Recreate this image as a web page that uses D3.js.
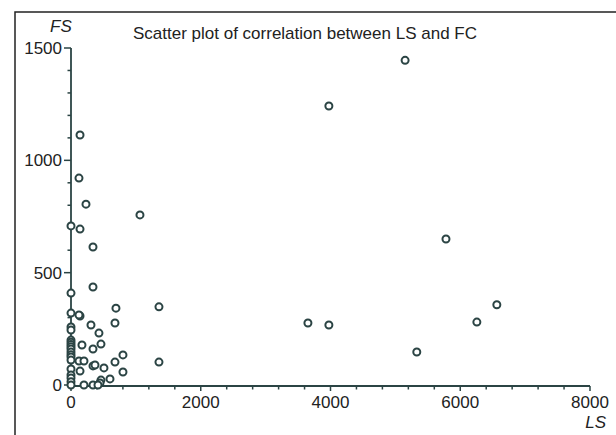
<!DOCTYPE html>
<html>
<head>
<meta charset="utf-8">
<script src="https://cdn.jsdelivr.net/npm/d3@7"></script>
<style>
  html, body { margin: 0; padding: 0; background: #fff; }
  svg { display: block; }
  text { font-family: "Liberation Sans", Arial, sans-serif; fill: #222; }
</style>
</head>
<body>
<svg id="chart" width="616" height="435"></svg>
<script>
const chartTitle = "Scatter plot of correlation between LS and FC";
const xLabel = "LS";
const yLabel = "FS";
const xTicks = [0, 2000, 4000, 6000, 8000];
const yTicks = [0, 500, 1000, 1500];
const lsValues = [
  0, 0, 0, 0, 0, 0, 0, 0, 0, 0, 0, 0, 0, 0, 0, 0, 0, 0, 0,
  139, 123, 231, 1063, 139, 339, 339, 139, 123, 693, 1356, 308, 678, 431, 169, 462, 339,
  123, 200, 801, 1356, 339, 370, 678, 508, 139, 801, 601, 462, 447, 200, 339, 416,
  3652, 3975, 5330, 6256, 6564, 5150, 3975, 5780
];
const fsValues = [
  708, 409, 320, 258, 245, 200, 190, 180, 170, 160, 147, 135, 125, 111, 71, 45, 31, 15, 0,
  1113, 921, 805, 757, 694, 614, 436, 307, 312, 342, 348, 267, 276, 231, 178, 182, 160,
  107, 107, 134, 102, 85, 89, 102, 76, 62, 58, 27, 22, 9, 0, 0, 0,
  276, 267, 147, 280, 357, 1445, 1242, 650
];

const svg = d3.select("#chart");
const axisColor = "#2b4444";
const fs = 17;

// frame
svg.append("path").attr("d", "M15,435V12H616")
  .attr("fill", "none").attr("stroke", "#222").attr("stroke-width", 1.5);

const x = d3.scaleLinear().domain([0, 8000]).range([71, 590]);
const y = d3.scaleLinear().domain([0, 1500]).range([385, 48]);

// x axis
const gx = svg.append("g").attr("transform", "translate(0,386)");
gx.append("line").attr("x1", x(0)).attr("x2", x(8000))
  .attr("stroke", axisColor).attr("stroke-width", 1.8);
const xMinor = d3.range(0, 8001, 400);
gx.selectAll("line.minor").data(xMinor).join("line").attr("class", "minor")
  .attr("x1", d => x(d)).attr("x2", d => x(d))
  .attr("y1", 0).attr("y2", d => xTicks.includes(d) ? 5 : 3.5)
  .attr("stroke", axisColor).attr("stroke-width", 1.5);
gx.selectAll("text").data(xTicks).join("text")
  .attr("x", d => x(d)).attr("y", 22)
  .attr("text-anchor", "middle").attr("font-size", fs)
  .text(d => d);

// y axis
const gy = svg.append("g").attr("transform", "translate(71,0)");
gy.append("line").attr("y1", y(0)).attr("y2", y(1500))
  .attr("stroke", axisColor).attr("stroke-width", 1.8);
const yMinor = d3.range(0, 1501, 100);
gy.selectAll("line.minor").data(yMinor).join("line").attr("class", "minor")
  .attr("y1", d => y(d)).attr("y2", d => y(d))
  .attr("x1", 0).attr("x2", d => yTicks.includes(d) ? -7 : -3.5)
  .attr("stroke", axisColor).attr("stroke-width", 1.5);
gy.selectAll("text").data(yTicks).join("text")
  .attr("x", -9).attr("y", d => y(d) + 6)
  .attr("text-anchor", "end").attr("font-size", fs)
  .text(d => d);

// labels
svg.append("text").attr("x", 50).attr("y", 32).attr("font-size", fs)
  .attr("font-style", "italic").text(yLabel);
svg.append("text").attr("x", 606).attr("y", 428).attr("font-size", fs)
  .attr("text-anchor", "end").attr("font-style", "italic").text(xLabel);
svg.append("text").attr("x", 133).attr("y", 39).attr("font-size", fs)
  .text(chartTitle);

// points
const pts = lsValues.map((v, i) => ({ ls: v, fs: fsValues[i] }));
svg.append("g").selectAll("circle").data(pts).join("circle")
  .attr("cx", d => x(d.ls)).attr("cy", d => y(d.fs)).attr("r", 3.5)
  .attr("fill", "#fff").attr("stroke", axisColor).attr("stroke-width", 2);
</script>
</body>
</html>
